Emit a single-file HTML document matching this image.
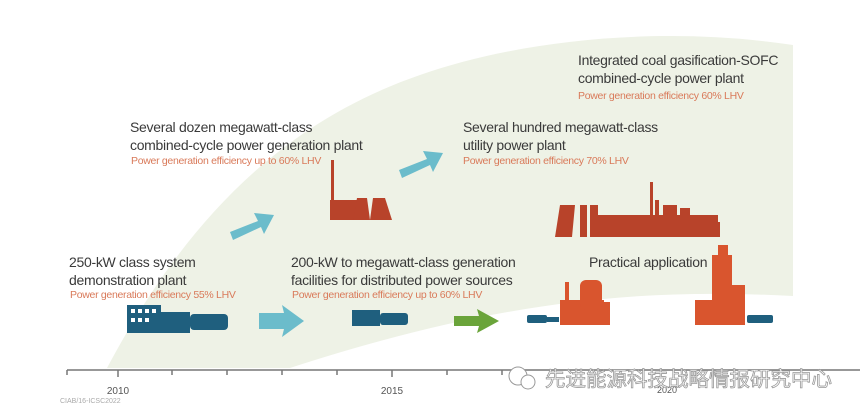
<!DOCTYPE html>
<html><head><meta charset="utf-8"><style>
body{margin:0;width:865px;height:417px;background:#fff;overflow:hidden;font-family:"Liberation Sans",sans-serif;position:relative}
.t{position:absolute;color:#3a3a3a;font-size:14px;line-height:18px;letter-spacing:-0.3px}
.o{position:absolute;color:#d97a5a;font-size:10.5px;letter-spacing:-0.3px}
svg{position:absolute;left:0;top:0}
</style></head><body>
<svg width="865" height="417">
<path d="M107,368 C170,250 260,130 420,75 C520,40 660,25 793,45 L793,296 C640,288 500,300 290,368 Z" fill="#eef2e6"/>
<g stroke="#777" stroke-width="1.5" fill="none">
<line x1="67" y1="370" x2="860" y2="370"/>
<line x1="67" y1="370" x2="67" y2="375"/><line x1="118" y1="370" x2="118" y2="377"/>
<line x1="172" y1="370" x2="172" y2="375"/><line x1="227" y1="370" x2="227" y2="375"/>
<line x1="282" y1="370" x2="282" y2="375"/><line x1="337" y1="370" x2="337" y2="375"/>
<line x1="392" y1="370" x2="392" y2="377"/><line x1="447" y1="370" x2="447" y2="375"/>
<line x1="502" y1="370" x2="502" y2="375"/>
</g>
<text x="118" y="394" font-size="10" fill="#555" text-anchor="middle" font-family="Liberation Sans">2010</text>
<text x="392" y="394" font-size="10" fill="#555" text-anchor="middle" font-family="Liberation Sans">2015</text>
<text x="667" y="393" font-size="9" fill="#555" text-anchor="middle" font-family="Liberation Sans">2020</text>
<text x="60" y="403" font-size="7" fill="#aaa" font-family="Liberation Sans">CIAB/16-ICSC2022</text>
<g fill="#6bbccb">
<path d="M230,232 L258,221 L254,213 L274,215 L264,234 L261,227 L233,240 Z"/>
<path d="M399,170 L427,159 L423,151 L443,153 L433,172 L430,165 L402,178 Z"/>
<path d="M259,313 L284,313 L282,305 L304,321 L282,337 L284,329 L259,329 Z"/>
</g>
<path d="M454,316 L479,316 L477,309 L499,321 L477,333 L479,326 L454,326 Z" fill="#6aa43a"/>
<g fill="#1f5f7e">
<rect x="127" y="305" width="34" height="28"/><rect x="160" y="312" width="30" height="21"/>
<rect x="190" y="314" width="38" height="16" rx="4"/>
<rect x="352" y="310" width="28" height="16"/><rect x="380" y="313" width="28" height="12" rx="3"/>
<rect x="527" y="315" width="20" height="8" rx="2"/><rect x="547" y="317" width="12" height="5"/>
<rect x="747" y="315" width="26" height="8" rx="2"/>
</g>
<g fill="#fff"><rect x="131" y="309" width="4" height="4"/><rect x="138" y="309" width="4" height="4"/><rect x="145" y="309" width="4" height="4"/><rect x="152" y="309" width="4" height="4"/><rect x="131" y="318" width="4" height="4"/><rect x="138" y="318" width="4" height="4"/><rect x="145" y="318" width="4" height="4"/></g>
<g fill="#b8432a">
<rect x="331" y="160" width="3" height="40"/><rect x="330" y="200" width="28" height="20"/>
<path d="M353,220 L357,198 L367,198 L370,220Z"/><path d="M370,220 L373,198 L385,198 L392,220Z"/>
<path d="M555,237 L560,205 L575,205 L572,237Z"/><rect x="580" y="205" width="7" height="32"/><rect x="590" y="205" width="8" height="32"/>
<rect x="598" y="215" width="120" height="22"/><rect x="650" y="182" width="3" height="55"/><rect x="655" y="200" width="4" height="37"/>
<rect x="663" y="205" width="14" height="32"/><rect x="680" y="208" width="10" height="29"/><rect x="690" y="222" width="30" height="15"/>
</g>
<g fill="#d9552e">
<rect x="560" y="300" width="44" height="25"/><rect x="565" y="282" width="4" height="20"/><rect x="580" y="280" width="22" height="30" rx="6"/>
<rect x="602" y="302" width="8" height="23"/>
<rect x="695" y="300" width="50" height="25"/><rect x="712" y="255" width="20" height="50"/><rect x="718" y="245" width="10" height="12"/>
<rect x="730" y="285" width="15" height="20"/>
</g>
<text x="545" y="386" font-size="20.5" fill="#fff" stroke="#999" stroke-width="0.8" font-family="Noto Sans CJK SC,sans-serif">先进能源科技战略情报研究中心</text>
<circle cx="518" cy="376" r="9" fill="#fff" stroke="#999"/><circle cx="528" cy="382" r="7" fill="#fff" stroke="#999"/>
</svg>
<div class="t" style="left:578px;top:51px">Integrated coal gasification-SOFC<br>combined-cycle power plant</div>
<div class="o" style="left:578px;top:90px">Power generation efficiency 60% LHV</div>
<div class="t" style="left:130px;top:118px">Several dozen megawatt-class<br>combined-cycle power generation plant</div>
<div class="o" style="left:131px;top:155px">Power generation efficiency up to 60% LHV</div>
<div class="t" style="left:463px;top:118px">Several hundred megawatt-class<br>utility power plant</div>
<div class="o" style="left:463px;top:155px">Power generation efficiency 70% LHV</div>
<div class="t" style="left:69px;top:253px">250-kW class system<br>demonstration plant</div>
<div class="o" style="left:70px;top:289px">Power generation efficiency 55% LHV</div>
<div class="t" style="left:291px;top:253px">200-kW to megawatt-class generation<br>facilities for distributed power sources</div>
<div class="o" style="left:292px;top:289px">Power generation efficiency up to 60% LHV</div>
<div class="t" style="left:589px;top:253px">Practical application</div>
</body></html>
